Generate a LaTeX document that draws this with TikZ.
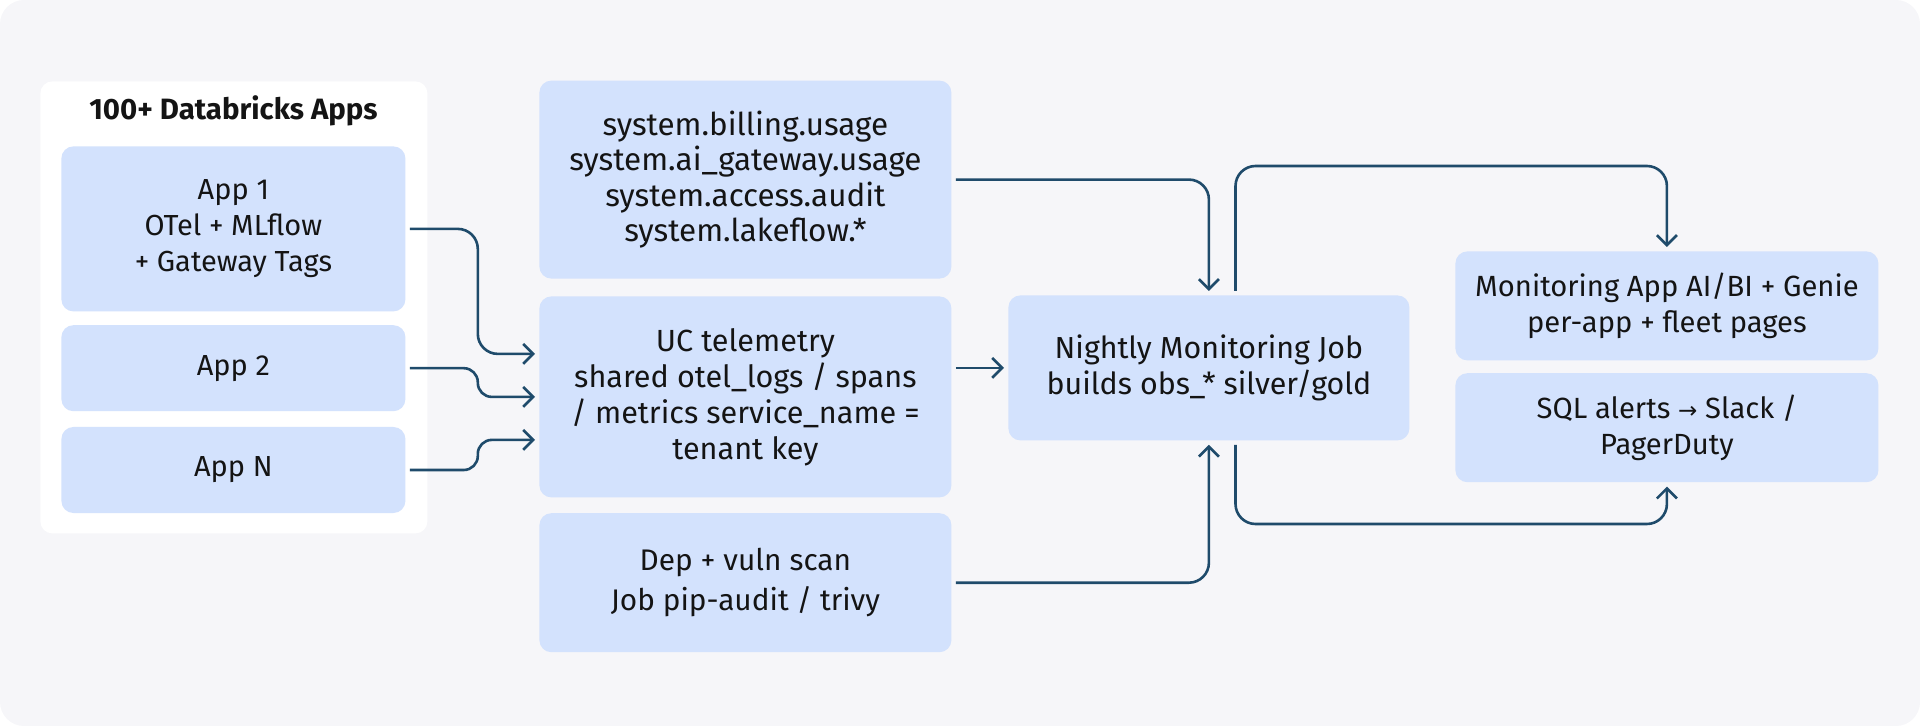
\documentclass[tikz,border=0pt]{standalone}
\usepackage{fontspec}
\setmainfont{Fira Sans}
\newfontfamily\symfont{DejaVu Sans}
\usetikzlibrary{arrows.meta, positioning, calc}

\definecolor{canvas}{HTML}{F6F6F9}
\definecolor{boxblue}{HTML}{D3E2FD}
\definecolor{wire}{HTML}{1F4B6B}
\definecolor{ink}{HTML}{141414}

\begin{document}
\begin{tikzpicture}[
    x=0.5pt, y=-0.5pt,
    node distance=7pt and 28pt,
    box/.style={rectangle, fill=boxblue, rounded corners=6pt, align=center, text=ink, font=\fontsize{15}{18}\selectfont, inner sep=4pt},
    appbox/.style={box, minimum width=172pt, font=\fontsize{14.5}{18}\selectfont},
    srcbox/.style={box, minimum width=206pt},
    outbox/.style={box, minimum width=211.5pt, minimum height=54.5pt, font=\fontsize{14.6}{18}\selectfont},
    group/.style={rectangle, fill=white, rounded corners=6pt},
    heading/.style={font=\fontsize{14.7}{18}\selectfont\bfseries, text=ink},
    arrow/.style={-{Straight Barb[length=5pt, width=10pt]}, line width=1.3pt, draw=wire, rounded corners=10pt, shorten <=2pt, shorten >=2pt}
]

% Canvas
\fill[canvas, rounded corners=12pt] (0,0) rectangle (1920,726);
\useasboundingbox (0,0) rectangle (1920,726);

% Apps group
\node[group, anchor=north west, minimum width=193.5pt, minimum height=226pt] (apps) at (40,81) {};
\node[heading] (apps-title) at (233.5,111) {100+ Databricks Apps};
\node[appbox, anchor=north west, minimum height=82.5pt] (app1) at (61,146) {App 1\\OTel + MLflow\\+ Gateway Tags};
\node[appbox, below=6.5pt of app1, minimum height=43pt] (app2) {App 2};
\node[appbox, below=7.5pt of app2, minimum height=43pt] (appN) {App N};

% Data sources
\node[srcbox, anchor=north west, minimum height=100.5pt, font=\fontsize{15.3}{18}\selectfont] (uc) at (539,296) {UC telemetry\\shared otel\_logs / spans\\/ metrics service\_name =\\tenant key};
\node[srcbox, above=8.5pt of uc, minimum height=99pt, font=\fontsize{15.7}{17.6}\selectfont] (sys) {system.billing.usage\\system.ai\_gateway.usage\\system.access.audit\\system.lakeflow.*};
\node[srcbox, below=7.5pt of uc, minimum height=69.5pt, font=\fontsize{14.9}{20}\selectfont] (dep) {Dep + vuln scan\\Job pip-audit / trivy};

% Nightly job
\node[box, anchor=north west, minimum width=200.5pt, minimum height=72.5pt, font=\fontsize{15.2}{18}\selectfont] (nightly) at (1008,295) {Nightly Monitoring Job\\builds obs\_* silver/gold};

% Outputs
\node[outbox, anchor=north west] (monitor) at (1455,251) {Monitoring App AI/BI + Genie\\per-app + fleet pages};
\node[outbox, below=6pt of monitor] (alerts) {SQL alerts {\symfont\fontsize{11.5}{18}\selectfont →} Slack /\\PagerDuty};

% Apps into telemetry
\draw[arrow] (app1.east) -- ++(36pt,0) |- ([yshift=21.5pt]uc.west);
\draw[arrow, rounded corners=7pt] (app2.east) -- ++(36pt,0) |- (uc.west);
\draw[arrow, rounded corners=7pt] (appN.east) -- ++(36pt,0) |- ([yshift=-21.5pt]uc.west);

% Sources into nightly job
\draw[arrow] (sys.east) -| (nightly.north);
\draw[arrow] (uc.east |- nightly.west) -- (nightly.west);
\draw[arrow] (dep.east) -| (nightly.south);

% Nightly job to outputs
\coordinate (rail-top) at (1235.5,166);
\coordinate (rail-bot) at (1235.5,524);
\draw[arrow] (rail-top |- nightly.north) -- (rail-top) -| (monitor.north);
\draw[arrow] (rail-bot |- nightly.south) -- (rail-bot) -| (alerts.south);

\end{tikzpicture}
\end{document}
